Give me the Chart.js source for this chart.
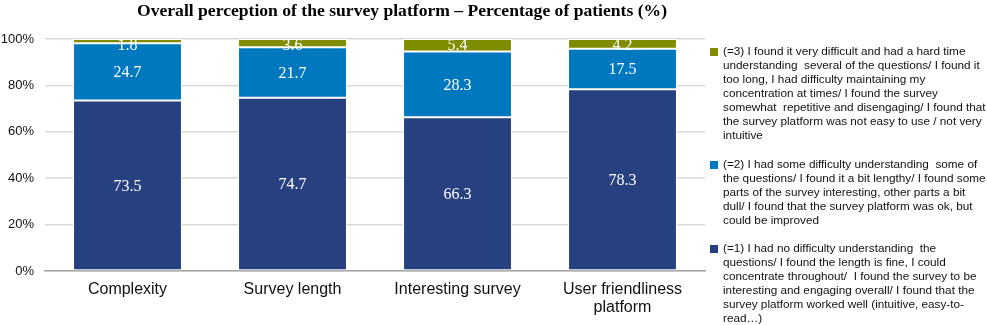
<!DOCTYPE html>
<html>
<head>
<meta charset="utf-8">
<script src="https://cdn.jsdelivr.net/npm/chart.js@4"></script>
<style>
  body { margin: 0; background: #fff; }
  #wrap { position: relative; width: 987px; height: 325px; }
  #title {
    position: absolute; left: 402px; top: 0px; transform: translateX(-50%);
    font: bold 17.6px "Liberation Serif", "Times New Roman", serif; white-space: nowrap; color: #000;
  }
  #legend {
    position: absolute; left: 710px; top: 44px; width: 277px;
    font: 11.75px "Liberation Sans", Arial, sans-serif; line-height: 14.05px; color: #111;
  }
  .item { display: flex; margin-bottom: 14.3px; }
  .box { width: 8px; height: 8px; margin-top: 4px; margin-right: 5px; flex: none; }
  .lines div { white-space: pre; }
</style>
</head>
<body>
<div id="wrap">
  <canvas id="myChart" width="987" height="325"></canvas>
  <div id="title">Overall perception of the survey platform – Percentage of patients (%)</div>
  <div id="legend"></div>
</div>
<script>
// categories
const categories = ["Complexity", "Survey length", "Interesting survey", ["User friendliness", "platform"]];

// series values (% of patients)
const level1 = [73.5, 74.7, 66.3, 78.3];
const level2 = [24.7, 21.7, 28.3, 17.5];
const level3 = [1.8, 3.6, 5.4, 4.2];

const yTicks = [0, 20, 40, 60, 80, 100];

// legend texts, line by line as in the original
const label3 = [
  "(=3) I found it very difficult and had a hard time",
  "understanding  several of the questions/ I found it",
  "too long, I had difficulty maintaining my",
  "concentration at times/ I found the survey",
  "somewhat  repetitive and disengaging/ I found that",
  "the survey platform was not easy to use / not very",
  "intuitive",
];
const label2 = [
  "(=2) I had some difficulty understanding  some of",
  "the questions/ I found it a bit lengthy/ I found some",
  "parts of the survey interesting, other parts a bit",
  "dull/ I found that the survey platform was ok, but",
  "could be improved",
];
const label1 = [
  "(=1) I had no difficulty understanding  the",
  "questions/ I found the length is fine, I could",
  "concentrate throughout/  I found the survey to be",
  "interesting and engaging overall/ I found that the",
  "survey platform worked well (intuitive, easy-to-",
  "read…)",
];

const navy = "rgb(38, 64, 128)";
const blue = "rgb(0, 120, 192)";
const olive = "rgb(128, 140, 0)";

// white numbers in the middle of each segment (kept inside the plot at the top)
const segmentLabels = {
  id: "segmentLabels",
  afterDatasetsDraw(chart) {
    const ctx = chart.ctx;
    ctx.save();
    ctx.fillStyle = "#fff";
    ctx.font = '16px "Liberation Serif", "Times New Roman", serif';
    ctx.textAlign = "center";
    ctx.textBaseline = "middle";
    chart.data.datasets.forEach((ds, i) => {
      chart.getDatasetMeta(i).data.forEach((bar, j) => {
        const y = Math.max((bar.y + bar.base) / 2 + 1, chart.chartArea.top + 6.5);
        ctx.fillText(ds.data[j].toFixed(1), bar.x, y);
      });
    });
    ctx.restore();
  },
};

const data = {
  labels: categories,
  datasets: [
    { label: label1.join(" "), data: level1, backgroundColor: navy },
    { label: label2.join(" "), data: level2, backgroundColor: blue },
    { label: label3.join(" "), data: level3, backgroundColor: olive },
  ].map((d) => ({ ...d, borderColor: "#fff", borderWidth: 1, borderSkipped: false })),
};

const config = {
  type: "bar",
  data,
  plugins: [segmentLabels],
  options: {
    responsive: false,
    animation: false,
    categoryPercentage: 0.66,
    barPercentage: 1,
    layout: { padding: { top: 39, right: 282, left: 0, bottom: 0 } },
    plugins: { legend: { display: false }, tooltip: { enabled: false } },
    scales: {
      x: {
        stacked: true,
        grid: { display: false, drawTicks: false },
        border: { display: true, color: "#a6a6a6", width: 1.5 },
        ticks: {
          color: "#111",
          padding: 10,
          maxRotation: 0,
          font: { family: '"Liberation Sans", Arial, sans-serif', size: 16, lineHeight: 1.1 },
        },
        afterFit(scale) { scale.height = 54; },
      },
      y: {
        stacked: true,
        min: 0,
        max: 100,
        afterBuildTicks(scale) { scale.ticks = yTicks.map((v) => ({ value: v })); },
        grid: { color: "#d9d9d9", lineWidth: 1.5, drawTicks: false },
        border: { display: false },
        ticks: {
          color: "#111",
          padding: 11,
          font: { family: '"Liberation Sans", Arial, sans-serif', size: 13 },
          callback: (v) => v + "%",
        },
        afterFit(scale) { scale.width = 45; },
      },
    },
  },
};

const myChart = new Chart(document.getElementById("myChart"), config);

// html legend, top series first
const legend = document.getElementById("legend");
[[olive, label3], [blue, label2], [navy, label1]].forEach(([color, lines]) => {
  const item = document.createElement("div");
  item.className = "item";
  item.innerHTML = '<div class="box" style="background:' + color + '"></div><div class="lines">' +
    lines.map((l) => "<div>" + l + "</div>").join("") + "</div>";
  legend.appendChild(item);
});
</script>
</body>
</html>
